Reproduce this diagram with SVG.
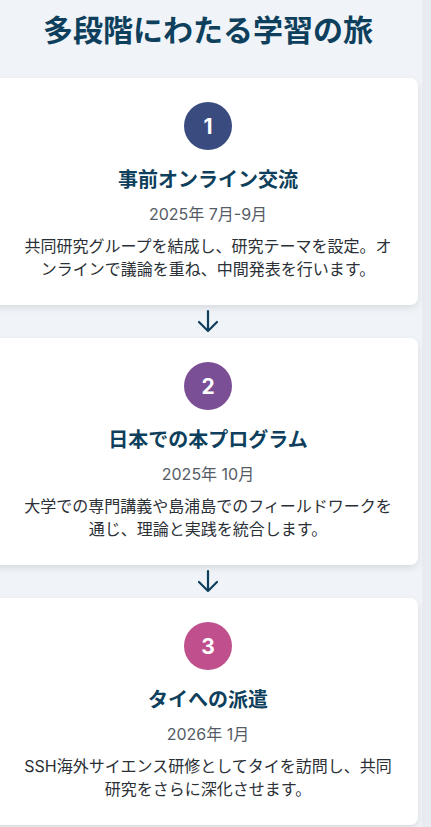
<svg xmlns="http://www.w3.org/2000/svg" width="431" height="827" viewBox="0 0 431 827">
<style>
.bg{fill:#f0f4f8}
.card{fill:#ffffff}
.h1{font-family:Inter,"Noto Sans CJK JP",sans-serif;font-size:30px;font-weight:700;fill:#0e3f5c;text-anchor:middle}
.num{font-family:Inter,"Noto Sans CJK JP",sans-serif;font-size:21px;font-weight:700;fill:#ffffff;text-anchor:middle}
.title{font-family:Inter,"Noto Sans CJK JP",sans-serif;font-size:20px;font-weight:700;fill:#0e3f5c;text-anchor:middle}
.date{font-family:Inter,"Noto Sans CJK JP",sans-serif;font-size:16px;fill:#555c66;text-anchor:middle}
.desc{font-family:Inter,"Noto Sans CJK JP",sans-serif;font-size:16px;fill:#2b2f36;text-anchor:middle}
.arrow{fill:none;stroke:#0e3f5c;stroke-width:2.2;stroke-linecap:round;stroke-linejoin:round}
</style>
<defs>
<filter id="sh" x="-10%" y="-10%" width="120%" height="130%">
<feDropShadow dx="0" dy="3" stdDeviation="3" flood-color="#000" flood-opacity="0.1"/>
</filter>
</defs>
<rect class="bg" x="0" y="0" width="431" height="827"/>
<rect x="422" y="0" width="9" height="827" fill="#e8ecf1"/>
<text class="h1" x="208" y="41">多段階にわたる学習の旅</text>
<g id="step1">
<rect class="card" x="-10" y="78" width="428" height="227" rx="8" filter="url(#sh)"/>
<circle cx="208" cy="126" r="24" fill="#394b7f"/>
<text class="num" x="208" y="133.5">1</text>
<text class="title" x="208" y="187">事前オンライン交流</text>
<text class="date" x="208" y="220">2025年 7月-9月</text>
<text class="desc" x="208" y="252">共同研究グループを結成し、研究テーマを設定。オ</text>
<text class="desc" x="208" y="275">ンラインで議論を重ね、中間発表を行います。</text>
</g>
<g id="step2">
<rect class="card" x="-10" y="338" width="428" height="227" rx="8" filter="url(#sh)"/>
<circle cx="208" cy="386" r="24" fill="#7a4f96"/>
<text class="num" x="208" y="393.5">2</text>
<text class="title" x="208" y="447">日本での本プログラム</text>
<text class="date" x="208" y="480">2025年 10月</text>
<text class="desc" x="208" y="512">大学での専門講義や島浦島でのフィールドワークを</text>
<text class="desc" x="208" y="535">通じ、理論と実践を統合します。</text>
</g>
<g id="step3">
<rect class="card" x="-10" y="598" width="428" height="227" rx="8" filter="url(#sh)"/>
<circle cx="208" cy="646" r="24" fill="#bf508d"/>
<text class="num" x="208" y="653.5">3</text>
<text class="title" x="208" y="707">タイへの派遣</text>
<text class="date" x="208" y="740">2026年 1月</text>
<text class="desc" x="208" y="772">SSH海外サイエンス研修としてタイを訪問し、共同</text>
<text class="desc" x="208" y="795">研究をさらに深化させます。</text>
</g>
<g id="connectors">
<path class="arrow" d="M208 311 V331 M199 322 L208 331 L217 322"/>
<path class="arrow" d="M208 571 V591 M199 582 L208 591 L217 582"/>
</g>
</svg>
